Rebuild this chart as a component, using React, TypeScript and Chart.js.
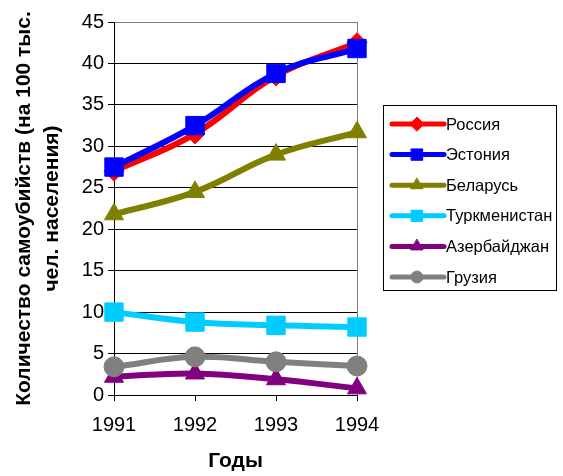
import React, { useEffect, useRef } from "react";
import { Chart, registerables } from "chart.js";
import { drawPoint } from "chart.js/helpers";

Chart.register(...registerables);

const years = ["1991", "1992", "1993", "1994"];
const russia = [27.0, 31.5, 38.5, 42.5];
const estonia = [27.5, 32.5, 38.8, 41.8];
const belarus = [21.8, 24.5, 29.0, 31.7];
const turkmenistan = [10.0, 8.8, 8.4, 8.2];
const azerbaijan = [2.2, 2.6, 1.9, 0.8];
const georgia = [3.4, 4.6, 4.0, 3.5];

const seriesNames = ["Россия", "Эстония", "Беларусь", "Туркменистан", "Азербайджан", "Грузия"];
const yTitle = ["Количество самоубийств (на 100 тыс.", "чел. населения)"];
const xTitle = "Годы";

const FONT = "'Liberation Sans', Arial, sans-serif";

const legendPlugin = {
  id: "customLegend",
  afterDraw(chart: any) {
    const ctx = chart.ctx;
    const area = chart.chartArea;
    const left = area.right + 26;
    const top = 105;
    const w = 173;
    const h = 185;
    ctx.save();
    ctx.strokeStyle = "#000";
    ctx.lineWidth = 1;
    ctx.strokeRect(left + 0.5, top + 0.5, w, h);
    const ds = chart.data.datasets;
    ds.forEach((d: any, i: number) => {
      const y = top + 19 + i * 30.6;
      ctx.strokeStyle = d.borderColor;
      ctx.lineWidth = 5;
      ctx.lineCap = "round";
      ctx.beginPath();
      ctx.moveTo(left + 9, y);
      ctx.lineTo(left + 61, y);
      ctx.stroke();
      ctx.fillStyle = d.backgroundColor;
      ctx.strokeStyle = d.borderColor;
      ctx.lineWidth = 1;
      drawPoint(ctx, { pointStyle: d.pointStyle, radius: d.legendRadius, borderWidth: 1, rotation: 0 }, left + 34, y);
      ctx.fillStyle = "#000";
      ctx.font = "16.5px " + FONT;
      ctx.textBaseline = "middle";
      ctx.textAlign = "left";
      ctx.fillText(d.label, left + 63, y + 1);
    });
    ctx.restore();
  },
};

export default function App() {
  const ref = useRef<HTMLCanvasElement>(null);
  useEffect(() => {
    document.body.style.margin = "0";
    const mk = (label: string, data: number[], color: string, style: string, r: number, lr: number, order: number) => ({
      label,
      data,
      borderColor: color,
      backgroundColor: color,
      borderWidth: 6,
      pointStyle: style,
      pointRadius: r,
      pointBorderWidth: 1,
      pointBackgroundColor: color,
      pointBorderColor: color,
      tension: 0.4,
      clip: false,
      order,
      legendRadius: lr,
    });
    const chart = new Chart(ref.current!, {
      type: "line",
      data: {
        labels: years,
        datasets: [
          mk(seriesNames[0], russia, "#FF0000", "rectRot", 10, 7, 6),
          mk(seriesNames[1], estonia, "#0000FF", "rect", 13, 8, 5),
          mk(seriesNames[2], belarus, "#808000", "triangle", 11, 7, 4),
          mk(seriesNames[3], turkmenistan, "#00CCFF", "rect", 13, 8, 3),
          mk(seriesNames[4], azerbaijan, "#800080", "triangle", 11, 7, 2),
          mk(seriesNames[5], georgia, "#808080", "circle", 10, 6, 1),
        ] as any,
      },
      options: {
        responsive: false,
        animation: false,
        color: "#000",
        layout: { padding: { top: 22, right: 206, left: 0, bottom: 0 } },
        plugins: { legend: { display: false }, tooltip: { enabled: false } },
        scales: {
          x: {
            type: "category",
            offset: false,
            afterFit: (s: any) => { s.height = 81; },
            grid: {
              color: (c: any) => (c.index === 3 ? "#808080" : "rgba(0,0,0,0)"),
              tickColor: "#000",
              tickLength: 6,
              lineWidth: 1,
            },
            border: { color: "#000", width: 1 },
            ticks: { color: "#000", font: { size: 20, family: FONT }, padding: 12, maxRotation: 0 },
            title: {
              display: true,
              text: xTitle,
              color: "#000",
              font: { size: 21, weight: "bold", family: FONT },
              padding: { top: 0, bottom: 2 },
            },
          },
          y: {
            min: 0,
            max: 45,
            afterFit: (s: any) => { s.width = 114; },
            grid: {
              color: (c: any) => (c.tick && c.tick.value === 45 ? "#808080" : "#000"),
              tickColor: "#000",
              tickLength: 6,
              lineWidth: 1,
            },
            border: { color: "#000", width: 1 },
            ticks: { stepSize: 5, color: "#000", font: { size: 20, family: FONT }, padding: 4 },
            title: {
              display: true,
              text: yTitle,
              color: "#000",
              font: { size: 21, weight: "bold", family: FONT, lineHeight: 1.35 },
              padding: { top: 10, bottom: 0 },
            },
          },
        },
      } as any,
      plugins: [legendPlugin],
    });
    return () => chart.destroy();
  }, []);
  return (
    <div style={{ position: "absolute", left: 0, top: 0, width: 563, height: 476 }}>
      <canvas ref={ref} width={563} height={476} />
    </div>
  );
}
